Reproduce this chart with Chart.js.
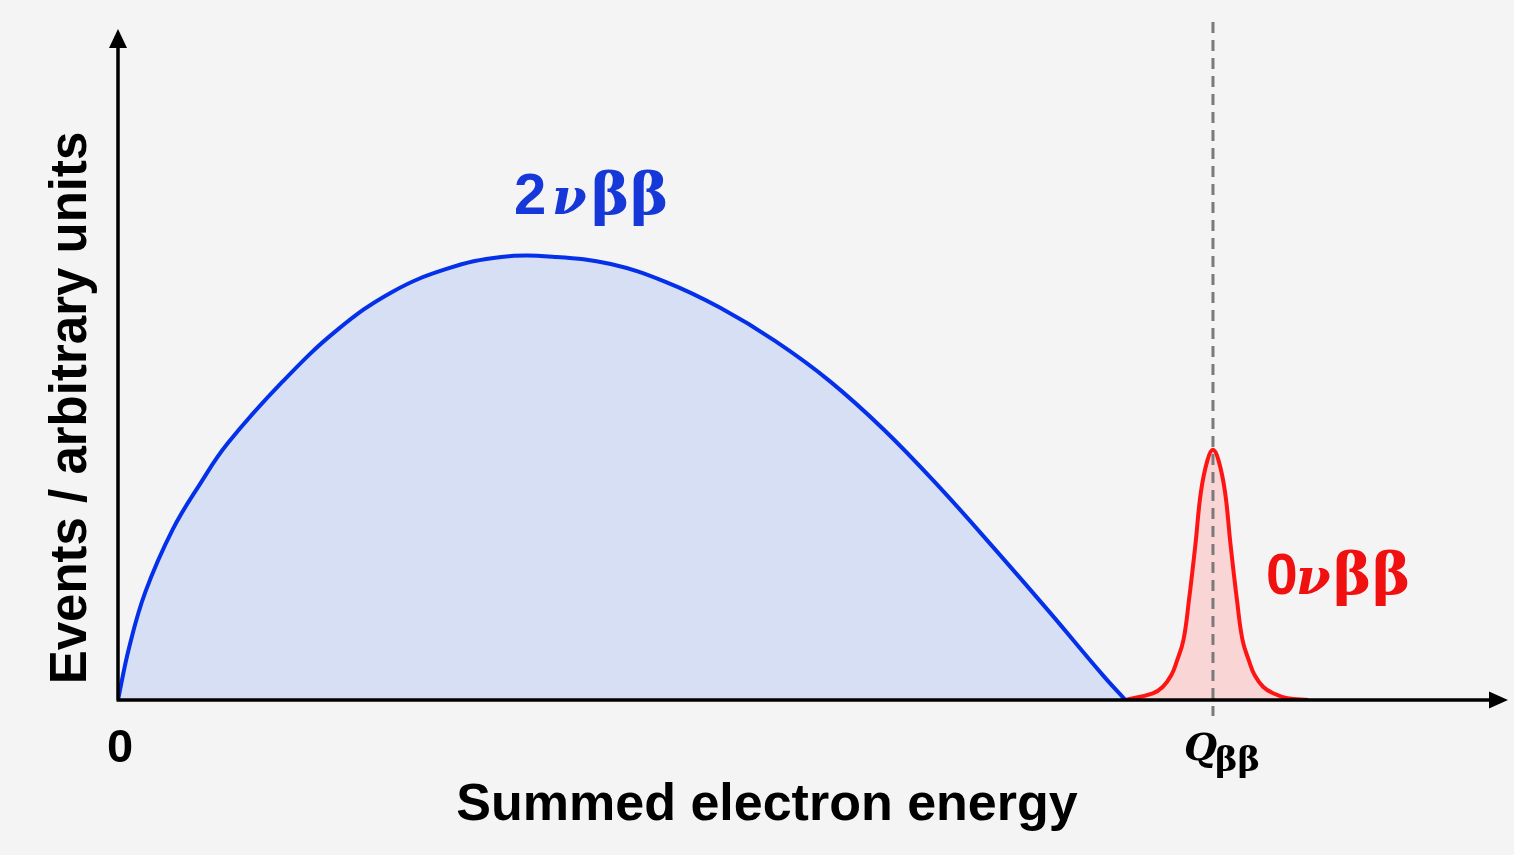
<!DOCTYPE html>
<html>
<head>
<meta charset="utf-8">
<script src="https://cdn.jsdelivr.net/npm/chart.js@4.4.1/dist/chart.umd.min.js"></script>
<style>
  html, body { margin: 0; padding: 0; background: #f4f4f4; }
  #wrap { width: 1514px; height: 855px; }
</style>
</head>
<body>
<div id="wrap"><canvas id="spectrum" width="1514" height="855"></canvas></div>
<script>
// Energy in units of Q (Q = 1), counts in arbitrary units
const twoNuEnergy = [0, 0.01, 0.025, 0.05, 0.075, 0.1, 0.15, 0.2, 0.25, 0.3, 0.35, 0.4, 0.45, 0.5, 0.55, 0.6, 0.65, 0.7, 0.75, 0.8, 0.85, 0.9, 0.92];
const twoNuCounts = [0, 0.116, 0.242, 0.382, 0.484, 0.574, 0.712, 0.828, 0.913, 0.965, 0.992, 0.992, 0.976, 0.936, 0.878, 0.804, 0.714, 0.604, 0.477, 0.340, 0.199, 0.054, 0];

const zeroNuEnergy = [0.920, 0.945, 0.954, 0.962, 0.967, 0.973, 0.978, 0.984, 0.989, 0.995, 1.000, 1.005, 1.011, 1.016, 1.022, 1.027, 1.033, 1.038, 1.046, 1.055, 1.068, 1.087];
const zeroNuCounts = [0, 0.015, 0.029, 0.056, 0.087, 0.134, 0.222, 0.349, 0.466, 0.537, 0.560, 0.537, 0.466, 0.349, 0.222, 0.134, 0.087, 0.056, 0.029, 0.015, 0.004, 0];

const qValue = 1.0;
const xTickLabels = ['0', 'Q'];
const xAxisTitle = 'Summed electron energy';
const yAxisTitle = 'Events / arbitrary units';

const toPoints = (xs, ys) => xs.map((x, i) => ({ x: x, y: ys[i] }));

const SANS = '"Liberation Sans", Arial, sans-serif';
const GREEK = '"DejaVu Serif", serif';

// draws a label made of pieces: [text, font, offset from x, baseline shift]
function drawParts(ctx, x, y, color, parts) {
    ctx.fillStyle = color;
    ctx.textAlign = 'left';
    ctx.textBaseline = 'alphabetic';
    parts.forEach(function (p) {
        ctx.font = p[1];
        ctx.fillText(p[0], x + p[2], y + (p[3] || 0));
    });
}

// axes with arrows, Q line and all the labels
const decorations = {
    id: 'decorations',
    beforeDraw(chart) {
        const ctx = chart.ctx;
        ctx.save();
        ctx.fillStyle = '#f4f4f4';
        ctx.fillRect(0, 0, chart.width, chart.height);
        ctx.restore();
    },
    afterDatasetsDraw(chart) {
        const ctx = chart.ctx;
        const xs = chart.scales.x, ys = chart.scales.y;
        const x0 = xs.getPixelForValue(0), y0 = ys.getPixelForValue(0);
        const xq = xs.getPixelForValue(qValue);
        const area = chart.chartArea;

        ctx.save();
        // dashed Q line
        ctx.strokeStyle = '#7a7a7a';
        ctx.lineWidth = 3;
        ctx.setLineDash([11, 7]);
        ctx.beginPath();
        ctx.moveTo(xq, 22);
        ctx.lineTo(xq, y0 + 16);
        ctx.stroke();
        ctx.setLineDash([]);

        // axes
        ctx.strokeStyle = '#000';
        ctx.fillStyle = '#000';
        ctx.lineWidth = 3.5;
        ctx.beginPath();
        ctx.moveTo(x0, y0);
        ctx.lineTo(x0, area.top + 16);
        ctx.moveTo(x0 - 1.5, y0);
        ctx.lineTo(area.right - 14, y0);
        ctx.stroke();
        ctx.beginPath();
        ctx.moveTo(x0, area.top - 1);
        ctx.lineTo(x0 - 9, area.top + 18);
        ctx.lineTo(x0 + 9, area.top + 18);
        ctx.closePath();
        ctx.fill();
        ctx.beginPath();
        ctx.moveTo(area.right + 3, y0);
        ctx.lineTo(area.right - 16, y0 - 8.5);
        ctx.lineTo(area.right - 16, y0 + 8.5);
        ctx.closePath();
        ctx.fill();

        // tick labels
        ctx.textBaseline = 'alphabetic';
        ctx.textAlign = 'center';
        ctx.font = 'bold 47px ' + SANS;
        ctx.fillText(xTickLabels[0], x0 + 2, 762);
        drawParts(ctx, xq - 29, 760, '#000', [
            [xTickLabels[1], 'italic bold 38px ' + GREEK, 0],
            ['ββ', 'bold 34px ' + GREEK, 31, 11]
        ]);

        // axis titles
        ctx.fillStyle = '#000';
        ctx.textAlign = 'center';
        ctx.font = 'bold 52px ' + SANS;
        ctx.fillText(xAxisTitle, 767, 820);
        ctx.save();
        ctx.translate(86, 408);
        ctx.rotate(-Math.PI / 2);
        ctx.font = 'bold 51px ' + SANS;
        ctx.fillText(yAxisTitle, 0, 0);
        ctx.restore();

        // curve labels
        drawParts(ctx, 514, 214, '#1638d8', [
            ['2', 'bold 58px ' + SANS, 0],
            ['ν', 'italic bold 50px ' + GREEK, 38],
            ['β', 'bold 58px ' + GREEK, 77],
            ['β', 'bold 58px ' + GREEK, 116]
        ]);
        drawParts(ctx, 1266, 594, '#f01010', [
            ['0', 'bold 57px ' + SANS, 0],
            ['ν', 'italic bold 50px ' + GREEK, 30],
            ['β', 'bold 58px ' + GREEK, 67],
            ['β', 'bold 58px ' + GREEK, 106]
        ]);
        ctx.restore();
    }
};

new Chart(document.getElementById('spectrum').getContext('2d'), {
    type: 'scatter',
    data: {
        datasets: [
            {
                label: '2νββ',
                data: toPoints(twoNuEnergy, twoNuCounts),
                showLine: true,
                borderColor: '#0530ea',
                backgroundColor: 'rgba(205, 216, 246, 0.75)',
                borderWidth: 4,
                fill: 'origin',
                tension: 0.4,
                pointRadius: 0
            },
            {
                label: '0νββ',
                data: toPoints(zeroNuEnergy, zeroNuCounts),
                showLine: true,
                borderColor: '#ff1414',
                backgroundColor: 'rgba(255, 175, 175, 0.45)',
                borderWidth: 4,
                fill: 'origin',
                tension: 0.4,
                pointRadius: 0
            }
        ]
    },
    options: {
        responsive: false,
        animation: false,
        layout: { padding: { left: 118, right: 9, top: 30, bottom: 155 } },
        scales: {
            x: { type: 'linear', min: 0, max: 1.2667, display: false },
            y: { type: 'linear', min: 0, max: 1.5, display: false }
        },
        plugins: {
            legend: { display: false },
            tooltip: { enabled: false }
        }
    },
    plugins: [decorations]
});
</script>
</body>
</html>
